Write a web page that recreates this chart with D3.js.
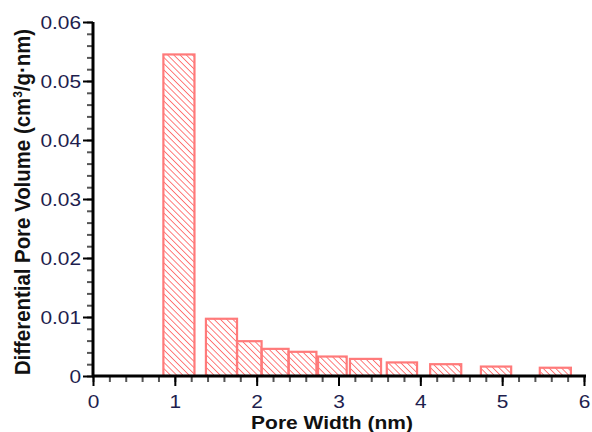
<!DOCTYPE html>
<html>
<head>
<meta charset="utf-8">
<script src="https://cdn.jsdelivr.net/npm/d3@7"></script>
<style>
  body { margin: 0; background: #fff; }
  text { font-family: Arial, "Liberation Sans", sans-serif; }
</style>
</head>
<body>
<svg id="chart" width="592" height="432"></svg>
<script>
// bins of the pore size distribution (nm) and their heights
const binLeft  = [0.86, 1.38, 1.76, 2.06, 2.39, 2.75, 3.14, 3.59, 4.12, 4.74, 5.46];
const binRight = [1.24, 1.76, 2.06, 2.39, 2.73, 3.10, 3.52, 3.96, 4.50, 5.11, 5.84];
const poreVol  = [0.0545, 0.0097, 0.0059, 0.0046, 0.0041, 0.0033, 0.0029, 0.0023, 0.0020, 0.0016, 0.0014];

const xTicks = [0, 1, 2, 3, 4, 5, 6];
const yTicks = [0, 0.01, 0.02, 0.03, 0.04, 0.05, 0.06];
const yLabels = ["0", "0.01", "0.02", "0.03", "0.04", "0.05", "0.06"];

const svg = d3.select("#chart");
const stretch = 1.16; // reference is a little wider than tall

let x = d3.scaleLinear().domain([0, 6]).range([93, 584]);
let y = d3.scaleLinear().domain([0, 0.06]).range([376, 22]);

let bars = binLeft.map((l, i) => ({ l: l, r: binRight[i], v: poreVol[i] }));

// hatch pattern "\\\"
let defs = svg.append("defs");
defs.append("pattern")
    .attr("id", "hatch")
    .attr("patternUnits", "userSpaceOnUse")
    .attr("width", 4.4)
    .attr("height", 4.4)
    .attr("patternTransform", "rotate(-45)")
    .append("line")
    .attr("x1", 0).attr("y1", 0)
    .attr("x2", 0).attr("y2", 4.4)
    .style("stroke", "#ff5c5c")
    .style("stroke-width", 1.6);

svg.selectAll(".bar")
    .data(bars)
    .enter()
    .append("rect")
    .attr("class", "bar")
    .attr("x", (d) => x(d.l))
    .attr("y", (d) => y(d.v))
    .attr("width", (d) => x(d.r) - x(d.l))
    .attr("height", (d) => y(0) - y(d.v))
    .style("fill", "url(#hatch)")
    .style("stroke", "#ff7a7a")
    .style("stroke-width", 2.2);

// minor ticks
svg.append("g")
    .attr("transform", `translate(0, ${y(0)})`)
    .call(d3.axisBottom(x).tickValues(d3.range(0, 6.01, 0.2)).tickSize(6).tickFormat(""))
    .call((g) => g.select(".domain").remove())
    .selectAll("line").style("stroke", "#555").style("stroke-width", 2);

svg.append("g")
    .attr("transform", `translate(${x(0)}, 0)`)
    .call(d3.axisLeft(y).tickValues(d3.range(0, 0.0601, 0.002)).tickSize(6).tickFormat(""))
    .call((g) => g.select(".domain").remove())
    .selectAll("line").style("stroke", "#555").style("stroke-width", 2);

// major ticks + labels
let xAxis = svg.append("g")
    .attr("transform", `translate(0, ${y(0)})`)
    .call(d3.axisBottom(x).tickValues(xTicks).tickSize(10).tickSizeOuter(0).tickFormat(d3.format("d")));

let yAxis = svg.append("g")
    .attr("transform", `translate(${x(0)}, 0)`)
    .call(d3.axisLeft(y).tickValues(yTicks).tickSize(10).tickSizeOuter(0).tickFormat((d, i) => yLabels[i]));

[xAxis, yAxis].forEach((g) => {
    g.select(".domain").remove();
    g.selectAll("line").style("stroke", "#000").style("stroke-width", 2);
    g.selectAll("text")
        .style("font-size", "18px")
        .style("fill", "#1e1e4e")
        .attr("transform", `scale(${stretch},1)`);
});
yAxis.selectAll("text").attr("x", -12 / stretch).attr("dy", "0.36em");
xAxis.selectAll("text").attr("dy", "0.71em").attr("y", 19);

// axis lines
svg.append("line")
    .attr("x1", x(0) - 1).attr("x2", x(6) + 2)
    .attr("y1", y(0)).attr("y2", y(0))
    .style("stroke", "#000").style("stroke-width", 3);
svg.append("line")
    .attr("x1", x(0)).attr("x2", x(0))
    .attr("y1", y(0.06)).attr("y2", y(0) + 1)
    .style("stroke", "#000").style("stroke-width", 3);

// titles
svg.append("text")
    .attr("transform", `translate(332, 429) scale(1.18,1)`)
    .attr("text-anchor", "middle")
    .style("font-size", "17.8px")
    .style("font-weight", "bold")
    .style("fill", "#111")
    .text("Pore Width (nm)");

let yTitle = svg.append("text")
    .attr("transform", `translate(29.5, 202) scale(1.1,1) rotate(-90)`)
    .attr("text-anchor", "middle")
    .style("font-size", "20.4px")
    .style("font-weight", "bold")
    .style("fill", "#111");
yTitle.append("tspan").text("Differential Pore Volume (cm");
yTitle.append("tspan").attr("dy", -7).style("font-size", "12px").text("3");
yTitle.append("tspan").attr("dy", 7).text("/g\u00b7nm)");
</script>
</body>
</html>
